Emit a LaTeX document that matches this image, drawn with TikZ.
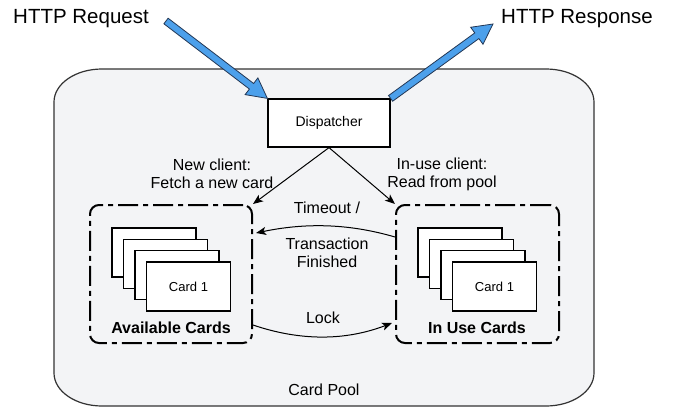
\documentclass[tikz,border=0pt]{standalone}
\usepackage{fontspec}
\setmainfont{Liberation Sans}
\usetikzlibrary{calc,arrows.meta}
\definecolor{poolfill}{RGB}{243,244,246}
\definecolor{poolline}{RGB}{51,51,51}
\definecolor{arrowblue}{RGB}{76,160,235}
\definecolor{arrowline}{RGB}{35,55,85}
\newcommand\myblockarrow[3]{%
  \coordinate (#1-base) at ($(#3)!20pt!(#2)$);
  \filldraw[blockarrow]
    ($(#2)!3.5pt!90:(#3)$) -- ($(#1-base)!3.5pt!90:(#3)$) -- ($(#1-base)!10.5pt!90:(#3)$)
    -- (#3) -- ($(#1-base)!10.5pt!-90:(#3)$) -- ($(#1-base)!3.5pt!-90:(#3)$)
    -- ($(#2)!3.5pt!-90:(#3)$) -- cycle;
}
\begin{document}
\begin{tikzpicture}[x=1pt,y=-1pt,
  lbl/.style={font=\fontsize{16}{18}\selectfont, align=center, inner sep=0pt},
  boldlbl/.style={font=\fontsize{16}{18}\selectfont\bfseries, inner sep=0pt},
  toplbl/.style={font=\fontsize{20.5}{24}\selectfont, inner sep=0pt, anchor=base},
  card/.style={draw, fill=white, line width=1.1pt, minimum width=84pt, minimum height=49pt, inner sep=0pt, font=\fontsize{13}{15}\selectfont},
  cardgroup/.style={draw, line width=2pt, dash pattern=on 20pt off 5pt on 5pt off 5pt, rounded corners=9pt, minimum width=162pt, minimum height=138pt, inner sep=0pt},
  conn/.style={draw, line width=1pt, -{Stealth[length=10pt,width=8pt,inset=2.5pt]}},
  blockarrow/.style={fill=arrowblue, draw=arrowline, line width=0.8pt, line join=miter},
  poolstyle/.style={fill=poolfill, draw=poolline, line width=1.2pt},
  dispstyle/.style={draw, fill=white, line width=1.2pt, minimum width=122pt, minimum height=48pt, inner sep=0pt, font=\fontsize{14}{16}\selectfont}
]
\useasboundingbox (0,0) rectangle (673,410);

% card pool
\draw[poolstyle] (102,69) -- (546,69) arc[start angle=90,end angle=0,x radius=48pt,y radius=33pt]
  -- (594,373) arc[start angle=0,end angle=-90,x radius=48pt,y radius=33pt]
  -- (102,406) arc[start angle=-90,end angle=-180,x radius=48pt,y radius=33pt]
  -- (54,102) arc[start angle=180,end angle=90,x radius=48pt,y radius=33pt] -- cycle;
\node[lbl] (pooltxt) at (324,390) {Card Pool};

% top labels
\node[toplbl] (req) at (81,23) {HTTP Request};
\node[toplbl] (resp) at (577,23.5) {HTTP Response};

% dispatcher
\node[dispstyle] (disp) at (329,123) {Dispatcher};

% groups
\node[cardgroup] (avail) at (171,274) {};
\node[cardgroup, minimum width=163pt] (inuse) at (477.5,274) {};

% cards available
\node[card] (av1) at (154,252.5) {};
\node[card] (av2) at (165.5,263.8) {};
\node[card] (av3) at (177,275.1) {};
\node[card] (av4) at (188.5,286.5) {Card 1};
% cards in use
\node[card] (iu1) at (460,252.5) {};
\node[card] (iu2) at (471.5,263.8) {};
\node[card] (iu3) at (483,275.1) {};
\node[card] (iu4) at (494.5,286.5) {Card 1};

\node[boldlbl] (avtxt) at (171,328) {Available Cards};
\node[boldlbl] (iutxt) at (477,328) {In Use Cards};

% connectors
\draw[conn] (disp.south) -- (avail.north east);
\draw[conn] (disp.south) -- (inuse.north west);
\draw[conn] ([yshift=37pt]inuse.west) .. controls +(-48,-14) and +(48,-10) .. ([xshift=3pt,yshift=41pt]avail.east);
\draw[conn] ([yshift=-51pt]avail.east) .. controls +(47,16) and +(-47,18) .. ([xshift=-3pt,yshift=-49pt]inuse.west);

% edge labels
\node[lbl] (newlbl) at (212,174) {New client:\\Fetch a new card};
\node[lbl] (uselbl) at (442,174) {In-use client:\\Read from pool};
\node[lbl] (tolbl) at (327,235) {Timeout /\\[18pt]Transaction\\Finished};
\node[lbl] (locklbl) at (323,318) {Lock};

% block arrows
\coordinate (reqtail) at (166,21);
\coordinate (resptip) at (493,24);
\myblockarrow{reqarrow}{reqtail}{disp.north west}
\myblockarrow{resparrow}{disp.north east}{resptip}
\end{tikzpicture}
\end{document}
